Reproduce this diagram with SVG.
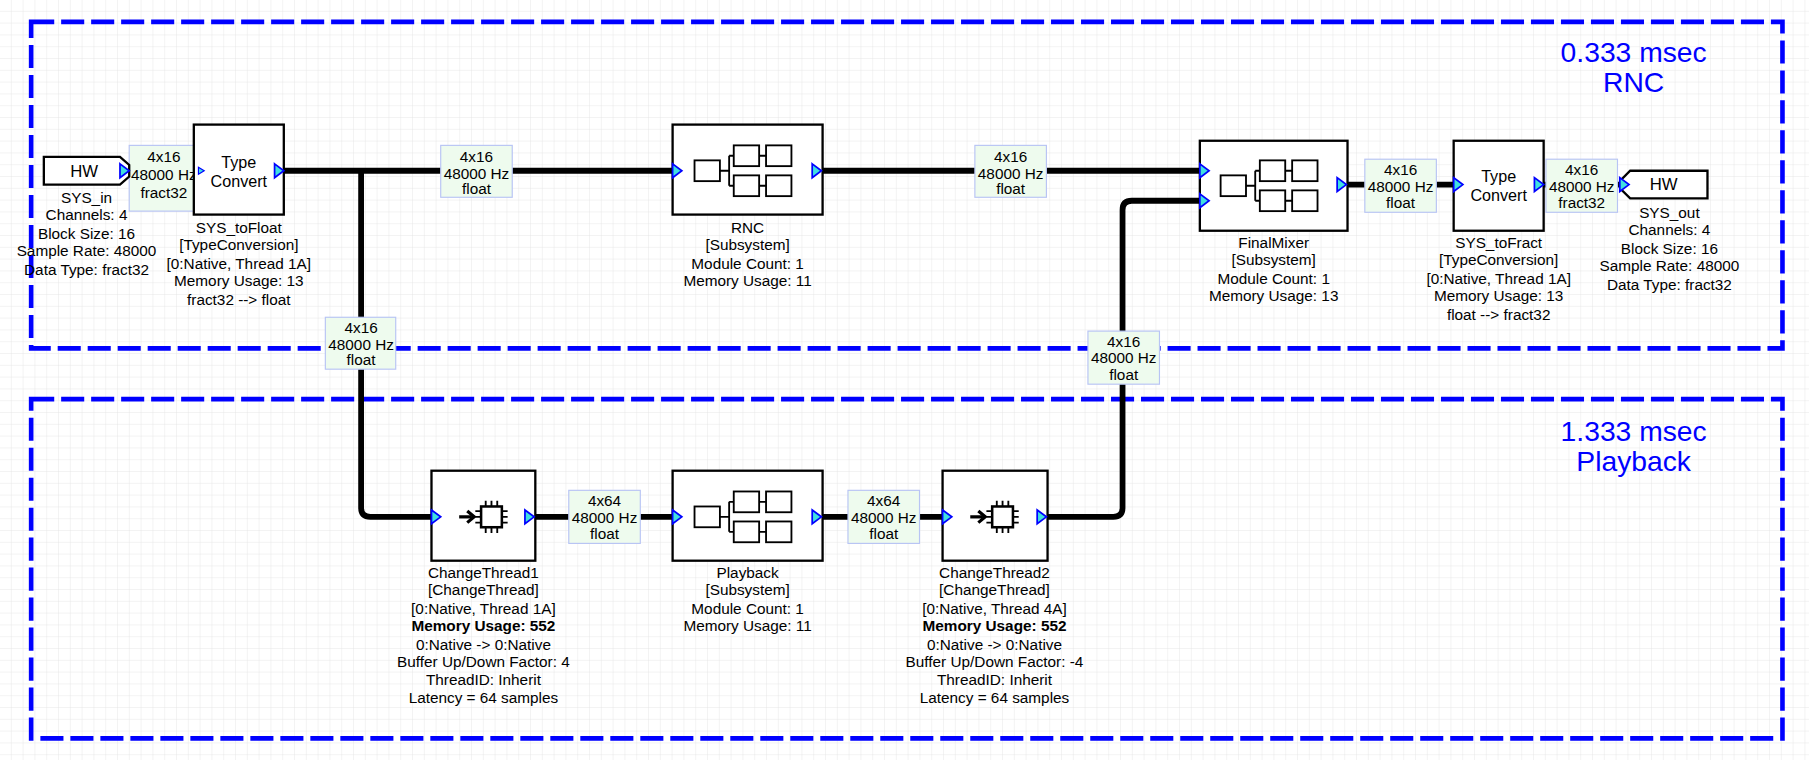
<svg xmlns="http://www.w3.org/2000/svg" width="1809" height="760" viewBox="0 0 1809 760">
<defs>
<pattern id="grid" width="11.8" height="11.8" patternUnits="userSpaceOnUse">
<path d="M11.8 0V11.8H0" fill="none" stroke="#e2e2e2" stroke-width="0.8"/>
</pattern>
<g id="port"><path d="M0 -6 L8 0 L0 6 Z" fill="#40e0e0" stroke="#0000ff" stroke-width="1.5"/></g>
<g id="sub" fill="none" stroke="#000" stroke-width="1.6">
<rect x="-46" y="-9" width="22" height="18" fill="#fff"/>
<path d="M-24 0H-16M-16 -13V13M-16 -13H-12M-16 13H-12M10 -13H16M10 13H16"/>
<rect x="-12" y="-22" width="22" height="18" fill="#fff"/><rect x="16" y="-22" width="22" height="18" fill="#fff"/>
<rect x="-12" y="4" width="22" height="18" fill="#fff"/><rect x="16" y="4" width="22" height="18" fill="#fff"/>
</g>
<g id="chip" fill="none" stroke="#000">
<path d="M-26 0H-15" stroke-width="2.8"/><path d="M-19 -5L-13 0L-19 5" stroke-width="2.8"/>
<rect x="-7" y="-9" width="18" height="18" stroke-width="2.2"/>
<path d="M-3 -9V-14M2 -9V-14M7 -9V-14M-3 9V14M2 9V14M7 9V14M-7 -5H-12M-7 0H-12M-7 5H-12M11 -5H16M11 0H16M11 5H16" stroke-width="1.6"/>
</g>
</defs>
<style>
text{font-family:"Liberation Sans",Arial,sans-serif;font-size:13.3px;text-anchor:middle;fill:#000}
.b{font-weight:bold}
.reg{fill:none;stroke:#0000ff;stroke-width:4;stroke-dasharray:20 6}
.rt{font-size:24.5px;fill:#0000ff}
.box{fill:#fff;stroke:#000;stroke-width:2}
.lbl{fill:#eefbee;stroke:#b8c4f4;stroke-width:1}
.w{fill:none;stroke:#000;stroke-width:5}
</style>
<rect width="1809" height="760" fill="#fff"/>
<rect width="1809" height="760" fill="url(#grid)"/>
<g transform="scale(1.1537)">
<g id="regions">
<rect class="reg" x="27" y="19" width="1518" height="283"/>
<rect class="reg" x="27" y="346" width="1518" height="294"/>
<text class="rt" x="1416" y="54">0.333 msec</text><text class="rt" x="1416" y="80">RNC</text>
<text class="rt" x="1416" y="382">1.333 msec</text><text class="rt" x="1416" y="408">Playback</text>
</g>
<g id="connectors">
<path class="w" d="M246 148H583"/>
<path class="w" d="M313 148V440Q313 448 321 448H374"/>
<path class="w" d="M713 148H1040"/>
<path class="w" d="M464 448H583"/>
<path class="w" d="M713 448H817"/>
<path class="w" d="M908 448H965Q973 448 973 440V182Q973 174 981 174H1040"/>
<path class="w" d="M1168 160H1260"/>
<path class="w" d="M1338 160H1405"/>
<g><rect class="lbl" x="112" y="126" width="60" height="57"/><text x="142" y="140">4x16</text><text x="142" y="156">48000 Hz</text><text x="142" y="172">fract32</text></g>
<g><rect class="lbl" x="382" y="126" width="62" height="45"/><text x="413" y="140">4x16</text><text x="413" y="155">48000 Hz</text><text x="413" y="168">float</text></g>
<g><rect class="lbl" x="282" y="275" width="61" height="45"/><text x="313" y="289">4x16</text><text x="313" y="303">48000 Hz</text><text x="313" y="316">float</text></g>
<g><rect class="lbl" x="845" y="126" width="62" height="45"/><text x="876" y="140">4x16</text><text x="876" y="155">48000 Hz</text><text x="876" y="168">float</text></g>
<g><rect class="lbl" x="1183" y="138" width="62" height="46"/><text x="1214" y="152">4x16</text><text x="1214" y="166">48000 Hz</text><text x="1214" y="180">float</text></g>
<g><rect class="lbl" x="1340" y="138" width="62" height="46"/><text x="1371" y="152">4x16</text><text x="1371" y="166">48000 Hz</text><text x="1371" y="180">fract32</text></g>
<g><rect class="lbl" x="943" y="287" width="62" height="46"/><text x="974" y="301">4x16</text><text x="974" y="315">48000 Hz</text><text x="974" y="329">float</text></g>
<g><rect class="lbl" x="493" y="425" width="62" height="46"/><text x="524" y="439">4x64</text><text x="524" y="453">48000 Hz</text><text x="524" y="467">float</text></g>
<g><rect class="lbl" x="735" y="425" width="62" height="46"/><text x="766" y="439">4x64</text><text x="766" y="453">48000 Hz</text><text x="766" y="467">float</text></g>
</g>
<g id="SYS_in">
<path d="M38 136H104L112 143V153L104 160H38Z" fill="#fff" stroke="#000" stroke-width="2"/>
<text x="73" y="153" style="font-size:14.5px">HW</text><use href="#port" x="104" y="148"/>
<text x="75" y="176">SYS_in</text><text x="75" y="191">Channels: 4</text><text x="75" y="207">Block Size: 16</text><text x="75" y="222">Sample Rate: 48000</text><text x="75" y="238">Data Type: fract32</text>
</g>
<g id="SYS_toFloat">
<rect class="box" x="168" y="108" width="78" height="78"/>
<text x="207" y="146" style="font-size:14px">Type</text><text x="207" y="162" style="font-size:14px">Convert</text>
<path d="M172 145L177 148L172 151Z" fill="#40e0e0" stroke="#0000ff"/><use href="#port" x="238" y="148"/>
<text x="207" y="202">SYS_toFloat</text><text x="207" y="217">[TypeConversion]</text><text x="207" y="233">[0:Native, Thread 1A]</text><text x="207" y="248">Memory Usage: 13</text><text x="207" y="264">fract32 --&gt; float</text>
</g>
<g id="RNC">
<rect class="box" x="583" y="108" width="130" height="78"/>
<use href="#sub" x="648" y="148"/><use href="#port" x="583" y="148"/><use href="#port" x="704" y="148"/>
<text x="648" y="202">RNC</text><text x="648" y="217">[Subsystem]</text><text x="648" y="233">Module Count: 1</text><text x="648" y="248">Memory Usage: 11</text>
</g>
<g id="FinalMixer">
<rect class="box" x="1040" y="122" width="128" height="78"/>
<use href="#sub" x="1104" y="161"/><use href="#port" x="1040" y="148"/><use href="#port" x="1040" y="174"/><use href="#port" x="1159" y="160"/>
<text x="1104" y="215">FinalMixer</text><text x="1104" y="230">[Subsystem]</text><text x="1104" y="246">Module Count: 1</text><text x="1104" y="261">Memory Usage: 13</text>
</g>
<g id="SYS_toFract">
<rect class="box" x="1260" y="122" width="78" height="78"/>
<text x="1299" y="158" style="font-size:14px">Type</text><text x="1299" y="174" style="font-size:14px">Convert</text>
<use href="#port" x="1260" y="160"/><use href="#port" x="1330" y="160"/>
<text x="1299" y="215">SYS_toFract</text><text x="1299" y="230">[TypeConversion]</text><text x="1299" y="246">[0:Native, Thread 1A]</text><text x="1299" y="261">Memory Usage: 13</text><text x="1299" y="277">float --&gt; fract32</text>
</g>
<g id="SYS_out">
<path d="M1413 148H1480V172H1413L1405 164V156Z" fill="#fff" stroke="#000" stroke-width="2"/>
<use href="#port" x="1404" y="160"/>
<text x="1442" y="165" style="font-size:14.5px">HW</text>
<text x="1447" y="189">SYS_out</text><text x="1447" y="204">Channels: 4</text><text x="1447" y="220">Block Size: 16</text><text x="1447" y="235">Sample Rate: 48000</text><text x="1447" y="251">Data Type: fract32</text>
</g>
<g id="ChangeThread1">
<rect class="box" x="374" y="408" width="90" height="78"/>
<use href="#chip" x="424" y="448"/><use href="#port" x="374" y="448"/><use href="#port" x="455" y="448"/>
<text x="419" y="501">ChangeThread1</text><text x="419" y="516">[ChangeThread]</text><text x="419" y="532">[0:Native, Thread 1A]</text><text class="b" x="419" y="547">Memory Usage: 552</text><text x="419" y="563">0:Native -&gt; 0:Native</text><text x="419" y="578">Buffer Up/Down Factor: 4</text><text x="419" y="594">ThreadID: Inherit</text><text x="419" y="609">Latency = 64 samples</text>
</g>
<g id="Playback">
<rect class="box" x="583" y="408" width="130" height="78"/>
<use href="#sub" x="648" y="448"/><use href="#port" x="583" y="448"/><use href="#port" x="704" y="448"/>
<text x="648" y="501">Playback</text><text x="648" y="516">[Subsystem]</text><text x="648" y="532">Module Count: 1</text><text x="648" y="547">Memory Usage: 11</text>
</g>
<g id="ChangeThread2">
<rect class="box" x="817" y="408" width="91" height="78"/>
<use href="#chip" x="867" y="448"/><use href="#port" x="817" y="448"/><use href="#port" x="899" y="448"/>
<text x="862" y="501">ChangeThread2</text><text x="862" y="516">[ChangeThread]</text><text x="862" y="532">[0:Native, Thread 4A]</text><text class="b" x="862" y="547">Memory Usage: 552</text><text x="862" y="563">0:Native -&gt; 0:Native</text><text x="862" y="578">Buffer Up/Down Factor: -4</text><text x="862" y="594">ThreadID: Inherit</text><text x="862" y="609">Latency = 64 samples</text>
</g>
</g>
</svg>
